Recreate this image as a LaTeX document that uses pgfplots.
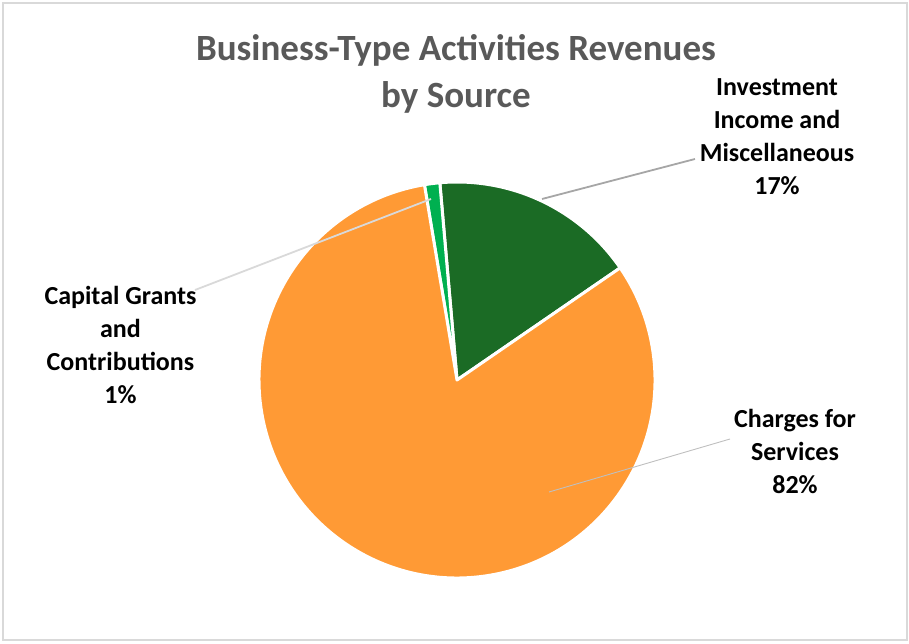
\documentclass[border=0pt]{standalone}
\usepackage{fontspec}
\setmainfont{Carlito}
\usepackage{pgfplots}
\usepackage{pgfplotstable}
\pgfplotsset{compat=1.18}

\definecolor{orangeC}{HTML}{FF9A35}
\definecolor{dkgreen}{HTML}{1B6B25}
\definecolor{ltgreen}{HTML}{00B050}
\definecolor{titlegray}{HTML}{595959}

% share of revenues, counter-clockwise from the first slice edge
\pgfplotstableread{
label value
Investment 16.8
Capital 1.25
Charges 81.95
}\pietable

\begin{document}
\begin{tikzpicture}[lbl/.style={font=\fontsize{26}{33}\selectfont\bfseries, align=center, text=black}]
\pgfplotstablegetelem{0}{value}\of\pietable \let\vA\pgfplotsretval
\pgfplotstablegetelem{1}{value}\of\pietable \let\vB\pgfplotsretval
\pgfplotstablegetelem{2}{value}\of\pietable \let\vC\pgfplotsretval
\pgfmathsetmacro\aA{34.5}
\pgfmathsetmacro\aB{\aA+3.6*\vA}
\pgfmathsetmacro\aC{\aB+3.6*\vB}
\pgfmathsetmacro\aD{\aC+3.6*\vC}
\begin{axis}[
    x=1pt, y=1pt,
    xmin=0, xmax=909, ymin=0, ymax=643,
    hide axis, clip=false,
    anchor=origin, at={(0,0)},
]
\path (axis cs:0,0) rectangle (axis cs:909,643);
\draw[color=black!15, line width=1.5pt] (axis cs:3,3) rectangle (axis cs:907,640);

\fill[dkgreen, draw=white, line width=3pt, line join=round]
  (axis cs:457,263) -- ++(\aA:198pt) arc[start angle=\aA, end angle=\aB, radius=198pt] -- cycle;
\fill[ltgreen, draw=white, line width=3pt, line join=round]
  (axis cs:457,263) -- ++(\aB:198pt) arc[start angle=\aB, end angle=\aC, radius=198pt] -- cycle;
\fill[orangeC, draw=white, line width=3pt, line join=round]
  (axis cs:457,263) -- ++(\aC:198pt) arc[start angle=\aC, end angle=\aD, radius=198pt] -- cycle;

% leader lines
\draw[color=black!35, line width=1.8pt] (axis cs:542,444) -- (axis cs:695,484);
\draw[color=black!15, line width=1.8pt] (axis cs:431,444) -- (axis cs:195,353);
\draw[color=black!25, line width=0.9pt] (axis cs:549,151) -- (axis cs:730,204);

\node[font=\fontsize{37}{47}\selectfont\bfseries, text=titlegray, align=center]
  at (axis cs:456,569.5) {Business-Type Activities Revenues\\by Source};
\node[lbl] at (axis cs:777,506.5) {Investment\\Income and\\Miscellaneous\\17\%};
\node[lbl] at (axis cs:120.5,298.5) {Capital Grants\\and\\Contributions\\1\%};
\node[lbl] at (axis cs:795,192) {Charges for\\Services\\82\%};
\end{axis}
\end{tikzpicture}
\end{document}
